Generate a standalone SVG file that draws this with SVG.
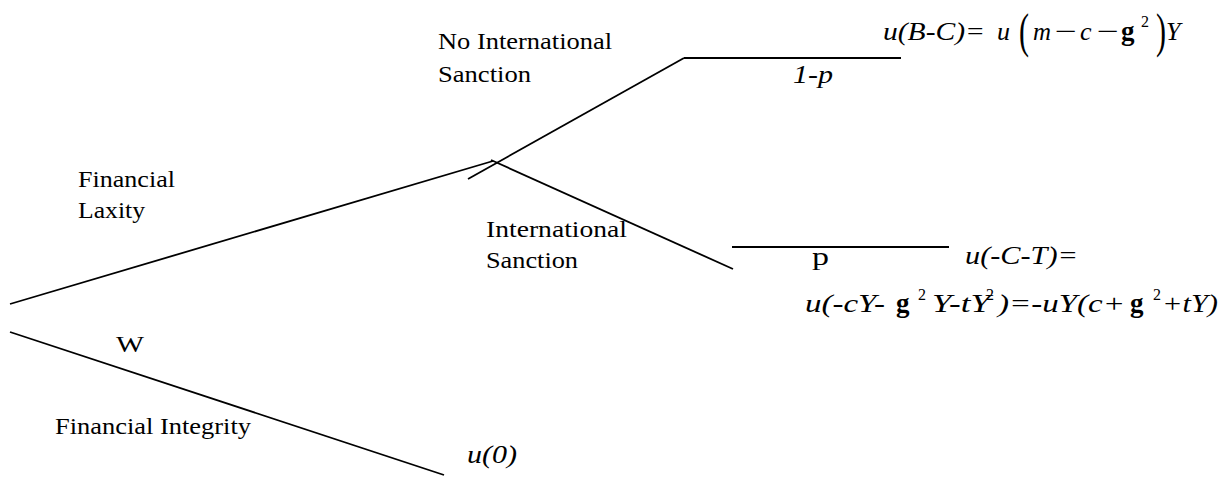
<svg xmlns="http://www.w3.org/2000/svg" width="1232" height="480" viewBox="0 0 1232 480">
<style>
.ln{stroke:#000;stroke-width:1.8;fill:none;stroke-linecap:butt}
.lb{font-family:"Liberation Serif","Times New Roman",serif;font-size:24px;fill:#000}
.m{font-family:"Liberation Serif","Times New Roman",serif;font-size:26px;font-style:italic;fill:#000}
.r{font-family:"Liberation Serif","Times New Roman",serif;font-size:26px;fill:#000}
.g{font-family:"Liberation Serif","Times New Roman",serif;font-size:27px;font-weight:bold;fill:#000}
.s{font-family:"Liberation Serif","Times New Roman",serif;font-size:16px;fill:#000}
.bp{font-family:"Liberation Serif","Times New Roman",serif;font-size:48px;fill:#000}
</style>
<rect width="1232" height="480" fill="#fff"/>
<g id="connectors">
<line class="ln" x1="10" y1="304" x2="493" y2="161"/>
<line class="ln" x1="468" y1="179" x2="684" y2="58"/>
<line class="ln" x1="684" y1="58" x2="901" y2="58"/>
<line class="ln" x1="491" y1="160" x2="733" y2="269"/>
<line class="ln" x1="732" y1="247" x2="949" y2="247"/>
<line class="ln" x1="10" y1="332" x2="444" y2="475"/>
</g>
<g id="root">
<text class="lb" x="116" y="352" font-size="25" textLength="28" lengthAdjust="spacingAndGlyphs">W</text>
</g>
<g id="laxity">
<text class="lb" x="78" y="187" textLength="97" lengthAdjust="spacingAndGlyphs">Financial</text>
<text class="lb" x="78" y="218" textLength="67" lengthAdjust="spacingAndGlyphs">Laxity</text>
</g>
<g id="integrity">
<text class="lb" x="55" y="434" textLength="196" lengthAdjust="spacingAndGlyphs">Financial Integrity</text>
<text class="m" x="467" y="463" textLength="50" lengthAdjust="spacingAndGlyphs">u(0)</text>
</g>
<g id="no-sanction">
<text class="lb" x="438" y="49" textLength="174" lengthAdjust="spacingAndGlyphs">No International</text>
<text class="lb" x="438" y="82" textLength="93" lengthAdjust="spacingAndGlyphs">Sanction</text>
<text class="m" x="793" y="83" textLength="40" lengthAdjust="spacingAndGlyphs">1-p</text>
<text class="m" x="883" y="40" textLength="102" lengthAdjust="spacingAndGlyphs">u(B-C)=</text>
<text class="m" x="997" y="40">u</text>
<text class="bp" x="1019" y="47" textLength="10" lengthAdjust="spacingAndGlyphs">(</text>
<text class="m" x="1033" y="40" textLength="18" lengthAdjust="spacingAndGlyphs">m</text>
<text class="r" x="1055" y="40" textLength="22" lengthAdjust="spacingAndGlyphs">−</text>
<text class="m" x="1080" y="40">c</text>
<text class="r" x="1097" y="40" textLength="22" lengthAdjust="spacingAndGlyphs">−</text>
<text class="g" x="1121" y="40">g</text>
<text class="s" x="1141" y="27">2</text>
<text class="bp" x="1156" y="47" textLength="10" lengthAdjust="spacingAndGlyphs">)</text>
<text class="m" x="1166" y="40">Y</text>
</g>
<g id="sanction">
<text class="lb" x="486" y="237" textLength="141" lengthAdjust="spacingAndGlyphs">International</text>
<text class="lb" x="486" y="268" textLength="92" lengthAdjust="spacingAndGlyphs">Sanction</text>
<text class="r" x="812" y="265" textLength="17" lengthAdjust="spacingAndGlyphs">p</text>
<text class="m" x="965" y="264" textLength="113" lengthAdjust="spacingAndGlyphs">u(-C-T)=</text>
<text class="m" x="805" y="312" textLength="80" lengthAdjust="spacingAndGlyphs">u(-cY-</text>
<text class="g" x="896" y="312">g</text>
<text class="s" x="918" y="300">2</text>
<text class="m" x="932" y="312" textLength="58" lengthAdjust="spacingAndGlyphs">Y-tY</text>
<text class="s" x="986" y="300">2</text>
<text class="m" x="998" y="312" textLength="127" lengthAdjust="spacingAndGlyphs">)=-uY(c+</text>
<text class="g" x="1130" y="312">g</text>
<text class="s" x="1153" y="300">2</text>
<text class="m" x="1162" y="312" textLength="56" lengthAdjust="spacingAndGlyphs">+tY)</text>
</g>
</svg>
